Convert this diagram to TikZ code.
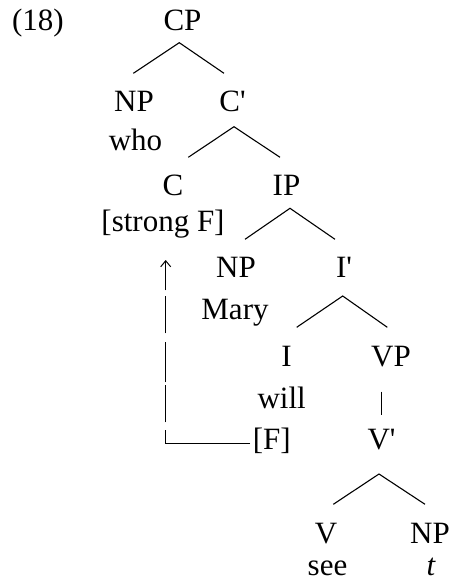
\documentclass[tikz,border=0pt]{standalone}
\usepackage{fontspec}
\setmainfont{Liberation Serif}
\usetikzlibrary{arrows.meta}
\begin{document}
\begin{tikzpicture}[x=1pt,y=-1pt,
  lbl/.style={anchor=base,inner sep=0pt,font=\fontsize{31}{37}\selectfont},
  branch/.style={line width=1.1pt},
  movearrow/.style={line width=1pt,
    dash pattern=on 97pt off 8pt on 37pt off 3pt on 40pt off 9pt on 37pt off 6pt on 40pt,
    -{Straight Barb[length=6pt,width=10pt,line width=1pt]}}]
\useasboundingbox (0,0) rectangle (451,582);
% labels
\node[lbl] (ex)   at (38,30.5)    {(18)};
\node[lbl] (cp)   at (182.5,30.5) {CP};
\node[lbl] (np1)  at (134,111.7)  {NP};
\node[lbl] (who)  at (135.5,150)  {who};
\node[lbl] (cbar) at (232.5,111.7){C\textquotesingle};
\node[lbl] (c)    at (173,195)    {C};
\node[lbl] (sf)   at (163,231.5)  {[strong F]};
\node[lbl] (ip)   at (286.5,195)  {IP};
\node[lbl] (np2)  at (236,277)    {NP};
\node[lbl] (mary) at (235,319)    {Mary};
\node[lbl] (ibar) at (344,277)    {I\textquotesingle};
\node[lbl] (i)    at (286.5,366)  {I};
\node[lbl] (will) at (281.7,408.5){will};
\node[lbl] (f)    at (271.7,449)  {[F]};
\node[lbl] (vp)   at (391,366)    {VP};
\node[lbl] (vbar) at (381.5,449)  {V\textquotesingle};
\node[lbl] (v)    at (326,543)    {V};
\node[lbl] (see)  at (327.5,575)  {see};
\node[lbl] (np3)  at (430,543)    {NP};
\node[lbl] (t)    at (431,575)    {\itshape t};
% branch points
\coordinate (cpT) at (179.3,42.7);
\coordinate (cpL) at (133.3,73.3);
\coordinate (cpR) at (224,73.3);
\coordinate (cbT) at (234,126.7);
\coordinate (cbL) at (188.3,157.3);
\coordinate (cbR) at (280,157.3);
\coordinate (ipT) at (290,208.3);
\coordinate (ipL) at (245,239.3);
\coordinate (ipR) at (335,239.3);
\coordinate (ibT) at (342.7,296);
\coordinate (ibL) at (296.7,327.3);
\coordinate (ibR) at (387.3,327.3);
\coordinate (vpT) at (381.7,391.7);
\coordinate (vpB) at (381.7,415);
\coordinate (vbT) at (379,474);
\coordinate (vbL) at (333.3,504.3);
\coordinate (vbR) at (425,504.3);
% branches
\draw[branch] (cpL) -- (cpT) -- (cpR);
\draw[branch] (cbL) -- (cbT) -- (cbR);
\draw[branch] (ipL) -- (ipT) -- (ipR);
\draw[branch] (ibL) -- (ibT) -- (ibR);
\draw[branch] (vpT) -- (vpB);
\draw[branch] (vbL) -- (vbT) -- (vbR);
% movement arrow
\coordinate (fw)  at (250,443);
\coordinate (tip) at (165.7,260);
\draw[movearrow] (fw) -| (tip);
\end{tikzpicture}
\end{document}
